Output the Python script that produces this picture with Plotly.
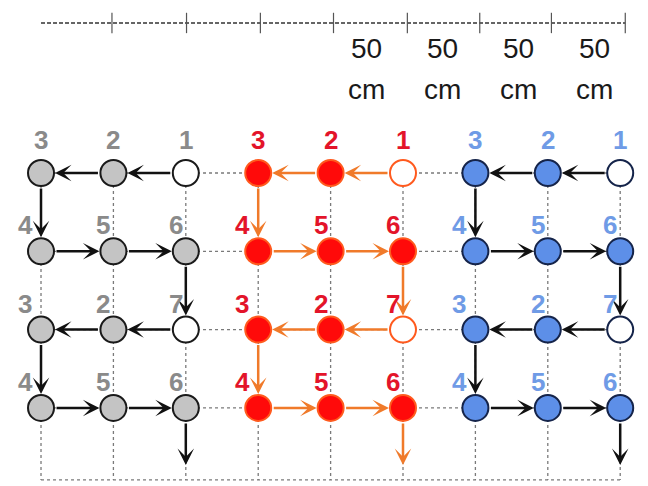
import plotly.graph_objects as go

# ---------------- data ----------------
group_names = ["grey", "red", "blue"]
group_col_offset = [0, 3, 6]
local_cols = [0, 1, 2]
rows = [0, 1, 2, 3]
node_labels = [["3", "2", "1"],
               ["4", "5", "6"],
               ["3", "2", "7"],
               ["4", "5", "6"]]
open_nodes = [(2, 0), (2, 2)]          # (local col, row) drawn as white circles
path_order = [(2, 0), (1, 0), (0, 0), (0, 1), (1, 1), (2, 1),
              (2, 2), (1, 2), (0, 2), (0, 3), (1, 3), (2, 3)]
exit_end_row = 3.73
grid_bottom_row = 3.92
grid_cols = list(range(9))

ruler_row = -1.916
ruler_start = 0.0
ruler_ticks = [0.98, 2.01, 3.03, 4.04, 5.06, 6.06, 7.05, 8.07]
ruler_label_x = [4.5, 5.55, 6.59, 7.65]
ruler_label_top = ["50", "50", "50", "50"]
ruler_label_bottom = ["cm", "cm", "cm", "cm"]
ruler_top_row = -1.596
ruler_bottom_row = -1.06

# ---------------- styles ----------------
style = {
    "grey": dict(fill="#c4c4c4", edge="#1a1a1a", label="#8a8a8a", arrow="#111111"),
    "red": dict(fill="#ff0a0a", edge="#ff5a1e", label="#e3142a", arrow="#f07a2a"),
    "blue": dict(fill="#5d8fe8", edge="#15244a", label="#6f9be6", arrow="#111111"),
}
label_font = "Liberation Sans, Arial"
R_PX = 14

fig = go.Figure()

# grid lines
gx, gy = [], []
for r in rows + [grid_bottom_row]:
    gx += [grid_cols[0], grid_cols[-1], None]
    gy += [r, r, None]
for c in grid_cols:
    gx += [c, c, None]
    gy += [rows[0], grid_bottom_row, None]
fig.add_trace(go.Scatter(x=gx, y=gy, mode="lines",
                         line=dict(color="#7a7a7a", width=1.3, dash="dot"),
                         hoverinfo="skip", showlegend=False))

# ruler
fig.add_trace(go.Scatter(x=[ruler_start, ruler_ticks[-1]], y=[ruler_row, ruler_row],
                         mode="lines", line=dict(color="#333333", width=1.6, dash="4px,2px"),
                         hoverinfo="skip", showlegend=False))
tx, ty = [], []
for t in ruler_ticks:
    tx += [t, t, None]
    ty += [ruler_row - 0.13, ruler_row + 0.13, None]
fig.add_trace(go.Scatter(x=tx, y=ty, mode="lines", line=dict(color="#555555", width=1.2),
                         hoverinfo="skip", showlegend=False))

annotations = []
for x, t1, t2 in zip(ruler_label_x, ruler_label_top, ruler_label_bottom):
    annotations.append(dict(x=x, y=ruler_top_row, text=t1, showarrow=False,
                            font=dict(family=label_font, size=28, color="#1a1a1a")))
    annotations.append(dict(x=x, y=ruler_bottom_row, text=t2, showarrow=False,
                            font=dict(family=label_font, size=28, color="#1a1a1a")))

# groups
for gname, off in zip(group_names, group_col_offset):
    st = style[gname]
    # arrows along the path
    for (c0, r0), (c1, r1) in zip(path_order[:-1], path_order[1:]):
        annotations.append(dict(x=c1 + off, y=r1, ax=c0 + off, ay=r0,
                                xref="x", yref="y", axref="x", ayref="y",
                                showarrow=True, arrowhead=3, arrowsize=1.1,
                                arrowwidth=2.5, arrowcolor=st["arrow"],
                                standoff=R_PX, startstandoff=R_PX, text=""))
    # exit arrow
    cl, rl = path_order[-1]
    annotations.append(dict(x=cl + off, y=exit_end_row, ax=cl + off, ay=rl,
                            xref="x", yref="y", axref="x", ayref="y",
                            showarrow=True, arrowhead=3, arrowsize=1.1,
                            arrowwidth=2.5, arrowcolor=st["arrow"],
                            standoff=0, startstandoff=R_PX, text=""))
    # nodes
    xs, ys, fills = [], [], []
    for r in rows:
        for c in local_cols:
            xs.append(c + off)
            ys.append(r)
            fills.append("white" if (c, r) in open_nodes else st["fill"])
            if r == 0:
                xsh, ysh = 0, 33
            else:
                xsh, ysh = (-16 if c == 0 else -10), 26
            annotations.append(dict(x=c + off, y=r, text="<b>" + node_labels[r][c] + "</b>",
                                    showarrow=False, yshift=ysh, xshift=xsh,
                                    font=dict(family=label_font, size=26, color=st["label"])))
    fig.add_trace(go.Scatter(x=xs, y=ys, mode="markers",
                             marker=dict(size=26, color=fills,
                                         line=dict(color=st["edge"], width=2)),
                             hoverinfo="skip", showlegend=False))

# page body has an 8px margin, so the figure is 640x478 and starts at (8, 8)
fig.update_layout(
    width=640, height=478,
    margin=dict(l=0, r=0, t=0, b=0),
    paper_bgcolor="white", plot_bgcolor="white",
    xaxis=dict(range=[-0.456, 8.384], visible=False, fixedrange=True),
    yaxis=dict(range=[3.997, -2.107], visible=False, fixedrange=True),
    annotations=annotations,
    showlegend=False,
)

fig.write_html("out.html")
